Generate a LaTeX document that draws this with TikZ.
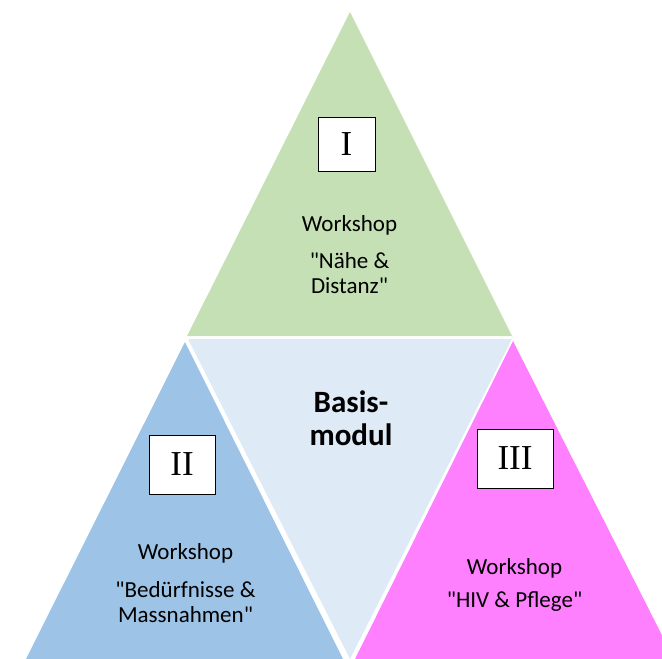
\documentclass[tikz,border=0pt]{standalone}
\usepackage{fontspec}
\setmainfont{Carlito}[Ligatures=TeXOff]
\newfontfamily\numfont{Liberation Serif}
\definecolor{tgreen}{HTML}{C5E0B4}
\definecolor{tblue}{HTML}{9DC3E6}
\definecolor{tlight}{HTML}{DEEBF7}
\definecolor{tmag}{HTML}{FF80FF}
\newcommand{\dq}{\symbol{34}}
\begin{document}
\begin{tikzpicture}[x=1pt,y=-1pt,
  numbox/.style={draw=black,line width=1pt,fill=white,inner sep=0pt,font=\numfont\fontsize{35}{40}\selectfont},
  wtext/.style={anchor=base,inner sep=0pt,font=\fontsize{23}{27}\selectfont},
  btext/.style={anchor=base,inner sep=0pt,font=\fontsize{31}{36}\selectfont\bfseries}]
\useasboundingbox (0,0) rectangle (662,659);
\clip (0,0) rectangle (662,659);
% triangles
\fill[tgreen] (187,336) -- (512,336) -- (350,12) -- cycle;
\fill[tlight] (188,339) -- (512,339) -- (350,659) -- cycle;
\fill[tblue] (185,342) -- (26,659) -- (343,659) -- cycle;
\fill[tmag] (513,341) -- (355,659) -- (674,659) -- cycle;
% number boxes
\node[numbox,minimum width=57pt,minimum height=54pt] (n1) at (346.5,144) {I};
\node[numbox,minimum width=66pt,minimum height=59pt] (n2) at (182,464.5) {II};
\node[numbox,minimum width=76pt,minimum height=59pt] (n3) at (515,458.5) {III};
% texts top
\node[wtext] (t1a) at (349.5,231) {Workshop};
\node[wtext] (t1b) at (349.5,268) {\dq Nähe \&};
\node[wtext] (t1c) at (349.5,293) {Distanz\dq};
% texts left
\node[wtext] (t2a) at (185.5,559) {Workshop};
\node[wtext] (t2b) at (185.5,597) {\dq Bedürfnisse \&};
\node[wtext] (t2c) at (185.5,622) {Massnahmen\dq};
% texts right
\node[wtext] (t3a) at (514.5,574) {Workshop};
\node[wtext] (t3b) at (514.5,607) {\dq HIV \& Pflege\dq};
% middle
\node[btext] (m1) at (351,412) {Basis-};
\node[btext] (m2) at (351,445) {modul};
\end{tikzpicture}
\end{document}
